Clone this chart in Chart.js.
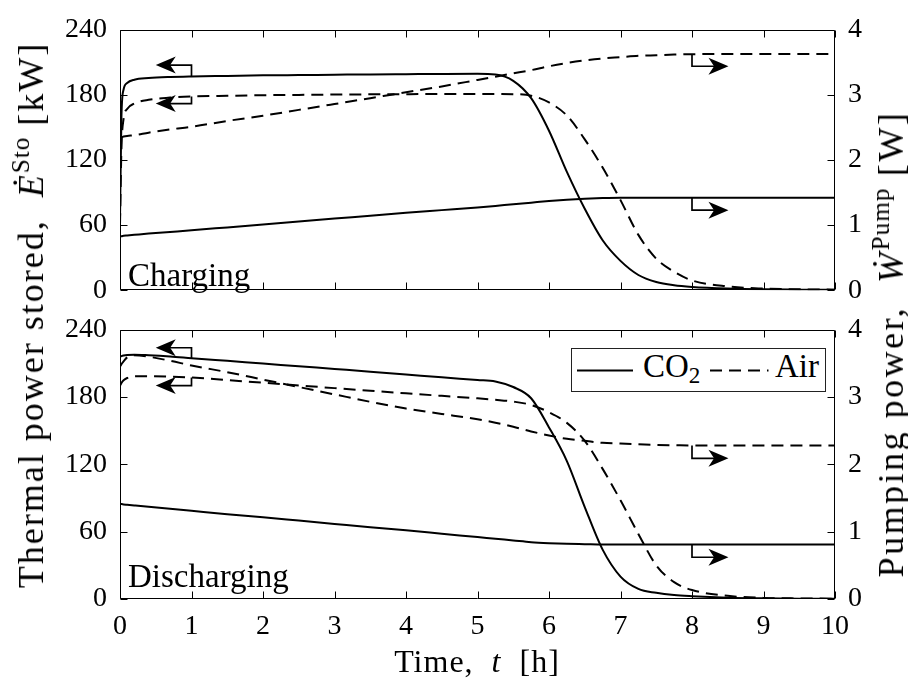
<!DOCTYPE html>
<html>
<head>
<meta charset="utf-8">
<script src="https://cdn.jsdelivr.net/npm/chart.js@4/dist/chart.umd.min.js"></script>
<style>
html,body{margin:0;padding:0;background:#fff;}
#wrap{position:relative;width:908px;height:679px;overflow:hidden;font-family:"Liberation Serif","DejaVu Serif",serif;color:#000;}
canvas{position:absolute;left:0;}
.t{position:absolute;white-space:nowrap;line-height:1;font-size:33px;}
.vt{transform:translate(-50%,-50%) rotate(-90deg);font-size:36px;letter-spacing:2px;}
.sp{font-size:0.7em;position:relative;top:-0.55em;letter-spacing:1px;}
.sb{font-size:0.7em;position:relative;top:0.25em;}
#legend{position:absolute;left:571px;top:348px;width:255px;height:44px;border:1px solid #222;box-sizing:border-box;background:#fff;}
</style>
</head>
<body>
<div id="wrap">
  <canvas id="c1" width="908" height="320" style="top:0;width:908px;height:320px"></canvas>
  <canvas id="c2" width="908" height="379" style="top:300px;width:908px;height:379px"></canvas>

  <div class="t" style="left:128px;top:259px">Charging</div>
  <div class="t" style="left:128px;top:560px">Discharging</div>

  <div id="legend"></div>
  <svg style="position:absolute;left:0;top:0" width="908" height="679">
    <line x1="577" y1="370.5" x2="633" y2="370.5" stroke="#000" stroke-width="2"/>
    <line x1="710" y1="370.5" x2="770" y2="370.5" stroke="#000" stroke-width="2" stroke-dasharray="12 7 12 7 12 7 1.5 20"/>
  </svg>
  <div class="t" style="left:643px;top:350px">CO<span class="sb">2</span></div>
  <div class="t" style="left:775px;top:350px">Air</div>

  <div class="t" style="left:477px;top:645px;transform:translateX(-50%);font-size:32px;letter-spacing:1px">Time,&nbsp; <i>t</i> &nbsp;[h]</div>
  <div class="t vt" style="left:31px;top:315px">Thermal power stored,&nbsp; <i>Ė</i><span class="sp">Sto</span> [kW]</div>
  <div class="t vt" style="left:891px;top:344px;letter-spacing:2.5px">Pumping power,&nbsp; <i>Ẇ</i><span class="sp">Pump</span> [W]</div>
</div>

<script>
// ---------------- DATA ----------------
const timeH = [0, 0.02, 0.05, 0.1, 0.2, 0.4, 0.7, 1, 1.5, 2, 2.5, 3, 3.5, 4, 4.5, 5, 5.25, 5.5, 5.75, 6, 6.25, 6.5, 6.75, 7, 7.25, 7.5, 7.75, 8, 8.5, 9, 9.5, 10];

// Charging: thermal power stored [kW]
const co2ThermalCharging = [65, 160, 185, 191, 194, 195.5, 196.5, 197, 197.5, 198, 198.3, 198.6, 198.9, 199.1, 199.3, 199.4, 198.8, 193, 177, 147, 109, 75, 46, 27, 14, 7.5, 4.5, 3, 1.5, 0.8, 0.5, 0.3];
const airThermalCharging = [60, 130, 158, 167, 172, 175.5, 177.5, 178.5, 179.2, 179.7, 180, 180.3, 180.5, 180.7, 180.8, 180.9, 180.9, 180.7, 179.3, 173, 161, 139, 113, 83, 51, 29, 17, 9, 3.5, 1.5, 0.8, 0.5];
// Charging: pumping power [W]
const co2PumpCharging = [0.83, 0.83, 0.835, 0.84, 0.85, 0.87, 0.895, 0.92, 0.965, 1.01, 1.055, 1.1, 1.145, 1.19, 1.23, 1.27, 1.295, 1.32, 1.345, 1.37, 1.39, 1.405, 1.415, 1.42, 1.42, 1.42, 1.42, 1.42, 1.42, 1.42, 1.42, 1.42];
const airPumpCharging = [2.35, 2.35, 2.36, 2.37, 2.38, 2.42, 2.47, 2.51, 2.6, 2.68, 2.77, 2.86, 2.95, 3.04, 3.13, 3.23, 3.28, 3.33, 3.38, 3.44, 3.49, 3.53, 3.56, 3.58, 3.6, 3.61, 3.62, 3.625, 3.63, 3.63, 3.63, 3.63];

// Discharging: thermal power stored [kW]
const co2ThermalDischarging = [216, 216.5, 217, 217.5, 217.8, 217.3, 216.2, 214.7, 212.3, 209.9, 207.5, 205.1, 202.7, 200.2, 197.6, 195.3, 194, 189, 179, 153, 123, 82, 44, 20, 9, 5.5, 3.5, 2.5, 1.2, 0.6, 0.3, 0.2];
const airThermalDischarging = [190, 192.5, 195, 197, 198.5, 198.7, 198.3, 197.5, 195.2, 192.8, 190.4, 188, 185.7, 183.4, 181.1, 178.9, 177.6, 176, 173, 166.5, 157, 141, 116, 88, 58, 30, 15, 8, 2.8, 1, 0.5, 0.3];
// Discharging: pumping power [W]
const co2PumpDischarging = [1.41, 1.41, 1.405, 1.4, 1.39, 1.37, 1.34, 1.31, 1.26, 1.215, 1.165, 1.115, 1.065, 1.02, 0.97, 0.92, 0.895, 0.87, 0.845, 0.83, 0.82, 0.815, 0.81, 0.81, 0.81, 0.81, 0.81, 0.81, 0.81, 0.81, 0.81, 0.81];
const airPumpDischarging = [3.45, 3.49, 3.53, 3.59, 3.62, 3.6, 3.54, 3.47, 3.37, 3.26, 3.15, 3.04, 2.93, 2.83, 2.75, 2.67, 2.62, 2.56, 2.49, 2.43, 2.38, 2.35, 2.32, 2.31, 2.3, 2.29, 2.285, 2.28, 2.28, 2.28, 2.28, 2.28];

// Tick labels
const xTickValues = [0, 1, 2, 3, 4, 5, 6, 7, 8, 9, 10];
const leftTickValues = [0, 60, 120, 180, 240];
const rightTickValues = [0, 1, 2, 3, 4];

// Arrow annotations (hook at t, from curve value to "to", pointing toward tip time)
const arrowsCharging = [
  {axis: 'y',  t: 1.0, from: 197,   to: 207.5, tip: 0.5},
  {axis: 'y',  t: 1.0, from: 178.5, to: 172,   tip: 0.5},
  {axis: 'y1', t: 8.0, from: 3.625, to: 3.44,  tip: 8.51},
  {axis: 'y1', t: 8.0, from: 1.42,  to: 1.23,  tip: 8.51}
];
const arrowsDischarging = [
  {axis: 'y',  t: 1.0, from: 214.7, to: 224,   tip: 0.5},
  {axis: 'y',  t: 1.0, from: 197.5, to: 190.3, tip: 0.5},
  {axis: 'y1', t: 8.0, from: 2.28,  to: 2.09,  tip: 8.51},
  {axis: 'y1', t: 8.0, from: 0.81,  to: 0.62,  tip: 8.51}
];

// ---------------- CHARTS ----------------
const FONT = '"Liberation Serif", "DejaVu Serif", serif';
const pts = (vals) => timeH.map((t, i) => ({x: t, y: vals[i]}));

const framePlugin = {
  id: 'frame',
  afterDatasetsDraw(chart, args, opts) {
    const {ctx, chartArea: a, scales} = chart;
    const L = Math.round(a.left) + 0.5, R = Math.round(a.right) - 0.5;
    const T = Math.round(a.top) + 0.5, B = Math.round(a.bottom) - 0.5;
    const tl = 7;
    ctx.save();
    ctx.strokeStyle = '#000';
    ctx.lineWidth = 1;
    ctx.beginPath();
    ctx.rect(L, T, R - L, B - T);
    xTickValues.forEach(v => {
      const px = Math.round(scales.x.getPixelForValue(v)) + 0.5;
      ctx.moveTo(px, B); ctx.lineTo(px, B - tl);
      ctx.moveTo(px, T); ctx.lineTo(px, T + tl);
    });
    leftTickValues.forEach(v => {
      const py = Math.round(scales.y.getPixelForValue(v)) + 0.5;
      ctx.moveTo(L, py); ctx.lineTo(L + tl, py);
    });
    rightTickValues.forEach(v => {
      const py = Math.round(scales.y1.getPixelForValue(v)) + 0.5;
      ctx.moveTo(R, py); ctx.lineTo(R - tl, py);
    });
    ctx.stroke();

    // arrows
    const HL = 20, HW = 8.5;
    (opts.arrows || []).forEach(ar => {
      const sc = scales[ar.axis];
      const x0 = scales.x.getPixelForValue(ar.t);
      const y0 = sc.getPixelForValue(ar.from);
      const y1 = sc.getPixelForValue(ar.to);
      const xt = scales.x.getPixelForValue(ar.tip);
      const dir = xt < x0 ? 1 : -1;
      ctx.lineWidth = 1.7;
      ctx.beginPath();
      ctx.moveTo(x0, y0); ctx.lineTo(x0, y1); ctx.lineTo(xt + dir * HL * 0.6, y1);
      ctx.stroke();
      ctx.fillStyle = '#000';
      ctx.beginPath();
      ctx.moveTo(xt, y1);
      ctx.lineTo(xt + dir * HL, y1 - HW);
      ctx.lineTo(xt + dir * HL * 0.72, y1);
      ctx.lineTo(xt + dir * HL, y1 + HW);
      ctx.closePath();
      ctx.fill();
    });
    ctx.restore();
  }
};

function makeDatasets(cT, aT, cP, aP) {
  const base = {borderColor: '#000', borderWidth: 2, pointRadius: 0, fill: false, cubicInterpolationMode: 'monotone'};
  return [
    Object.assign({label: 'CO2 thermal', data: pts(cT), yAxisID: 'y'}, base),
    Object.assign({label: 'Air thermal', data: pts(aT), yAxisID: 'y', borderDash: [12, 7]}, base),
    Object.assign({label: 'CO2 pump', data: pts(cP), yAxisID: 'y1'}, base),
    Object.assign({label: 'Air pump', data: pts(aP), yAxisID: 'y1', borderDash: [12, 7]}, base)
  ];
}

function makeOptions(showX, padTop, padBottom, arrows) {
  const tickFont = {family: FONT, size: 28};
  return {
    responsive: false,
    animation: false,
    devicePixelRatio: 1,
    layout: {padding: {top: padTop, bottom: padBottom, left: 0, right: 0}},
    plugins: {legend: {display: false}, tooltip: {enabled: false}, frame: {arrows: arrows}},
    scales: {
      x: {
        type: 'linear', min: 0, max: 10, display: showX,
        afterBuildTicks: s => { s.ticks = xTickValues.map(v => ({value: v})); },
        ticks: {font: tickFont, color: '#000', padding: 11, maxRotation: 0, autoSkip: false},
        grid: {display: false, drawTicks: false},
        border: {display: false},
        afterFit: s => { s.height = showX ? 80 : 0; }
      },
      y: {
        type: 'linear', position: 'left', min: 0, max: 240,
        afterBuildTicks: s => { s.ticks = leftTickValues.map(v => ({value: v})); },
        ticks: {font: tickFont, color: '#000', padding: 13},
        grid: {display: false, drawTicks: false},
        border: {display: false},
        afterFit: s => { s.width = 120; }
      },
      y1: {
        type: 'linear', position: 'right', min: 0, max: 4,
        afterBuildTicks: s => { s.ticks = rightTickValues.map(v => ({value: v})); },
        ticks: {font: tickFont, color: '#000', padding: 13},
        grid: {display: false, drawTicks: false},
        border: {display: false},
        afterFit: s => { s.width = 73; }
      }
    }
  };
}

new Chart(document.getElementById('c1'), {
  type: 'line',
  data: {datasets: makeDatasets(co2ThermalCharging, airThermalCharging, co2PumpCharging, airPumpCharging)},
  options: makeOptions(false, 25, 23, arrowsCharging),
  plugins: [framePlugin]
});

new Chart(document.getElementById('c2'), {
  type: 'line',
  data: {datasets: makeDatasets(co2ThermalDischarging, airThermalDischarging, co2PumpDischarging, airPumpDischarging)},
  options: makeOptions(true, 27, 0, arrowsDischarging),
  plugins: [framePlugin]
});
</script>
</body>
</html>
